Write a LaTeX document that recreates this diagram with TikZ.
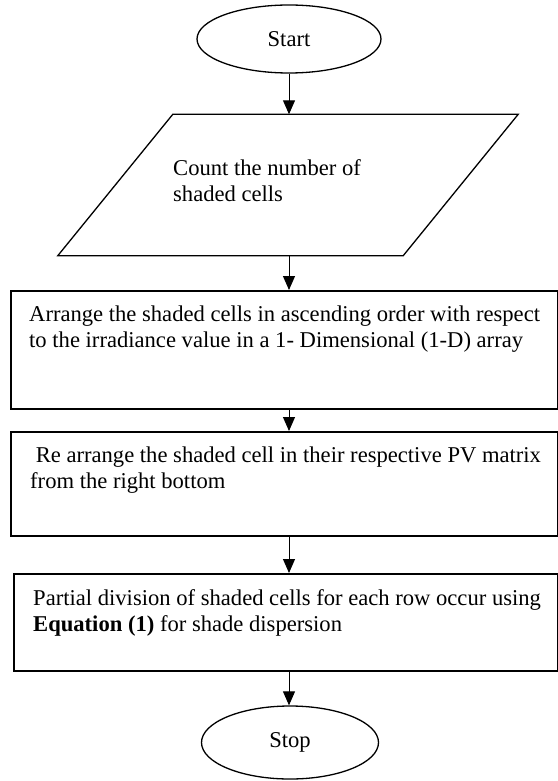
\documentclass[tikz,border=0pt]{standalone}
\usepackage{fontspec}
\setmainfont{Liberation Serif}
\usetikzlibrary{positioning}
\usetikzlibrary{shapes.geometric}
\usetikzlibrary{arrows.meta}

\begin{document}
\begin{tikzpicture}[x=1pt,y=-1pt,
    every node/.style={font=\fontsize{22.6}{26}\selectfont},
    terminal/.style={draw,ellipse,line width=1.3pt,minimum width=184pt,
      minimum height=68pt,inner sep=0pt},
    procbox/.style={draw,rectangle,line width=1.6pt,minimum width=547pt,
      inner sep=0pt,anchor=north west},
    boxtext/.style={align=left,inner sep=0pt},
    flow/.style={line width=1pt,-{Triangle[width=12pt,length=14pt]}}]
    \useasboundingbox (0,0) rectangle (557,781);

    \node[terminal] (start) at (289,39) {Start};

    % input step, drawn as a slanted box round an empty node
    \node[minimum width=345pt,minimum height=141pt,inner sep=0pt] (count)
    at (288,185) {};
    \draw[line width=1.3pt] ([xshift=57.5pt]count.north west)
    -- ([xshift=57.5pt]count.north east)
    -- ([xshift=-57.5pt]count.south east)
    -- ([xshift=-57.5pt]count.south west) -- cycle;
    \node[boxtext,anchor=north west] (counttxt) at (173,159.5)
    {Count the number of\\shaded cells};

    \node[procbox,minimum height=118pt] (arrange) at (10,290) {};
    \node[procbox,minimum height=104pt] (rearrange) at (10,431) {};
    \node[procbox,minimum height=97pt,minimum width=544pt] (partial)
    at (13,573) {};

    \node[boxtext,below right=16pt and 19pt of arrange.north west]
    (arrangetxt) {Arrange the shaded cells in ascending order with respect\\
      to the irradiance value in a 1- Dimensional (1-D) array};
    \node[boxtext,below right=16pt and 20pt of rearrange.north west]
    (rearrangetxt) {\hspace*{5.6pt}Re arrange the shaded cell in their
      respective PV matrix\\from the right bottom};
    \node[boxtext,below right=16pt and 20pt of partial.north west]
    (partialtxt) {Partial division of shaded cells for each row occur using\\
      \textbf{Equation (1)} for shade dispersion};

    \node[terminal,minimum width=177pt,minimum height=73pt] (stop)
    at (290,742.5) {Stop};

    \draw[flow] (start.south) -- (start.south |- count.north);
    \foreach \a/\b in {count/arrange,arrange/rearrange,rearrange/partial,
      partial/stop}
    \draw[flow] (\a.south -| start) -- (\b.north -| start);

\end{tikzpicture}
\end{document}
